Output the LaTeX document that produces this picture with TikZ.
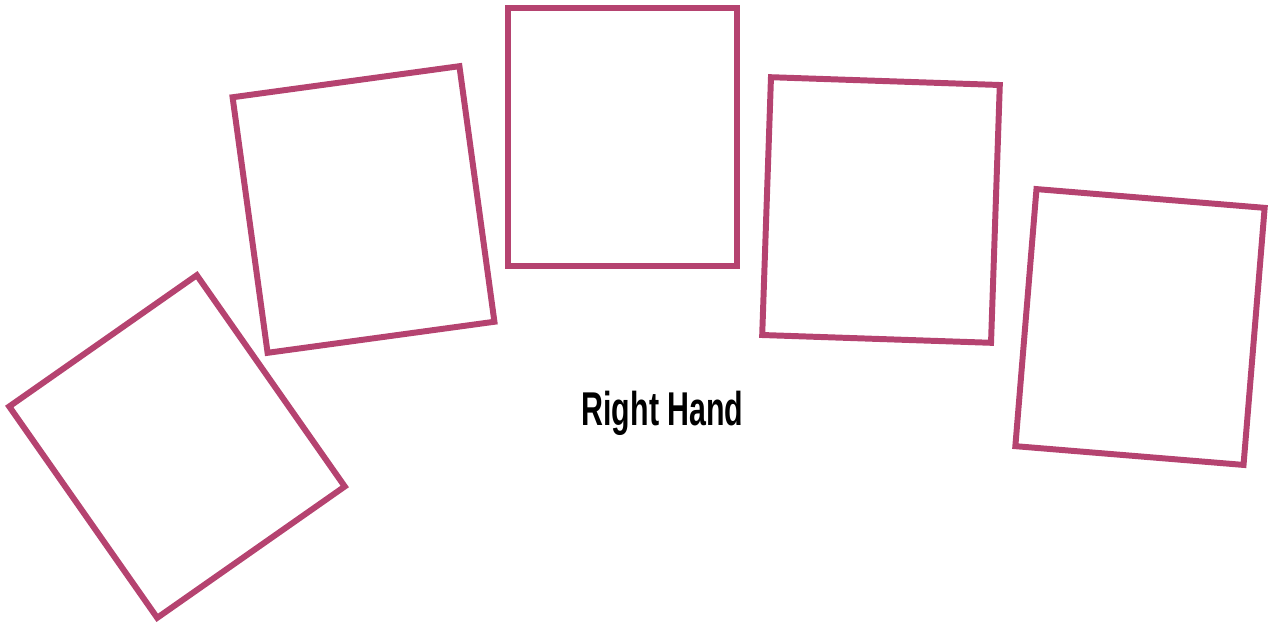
\documentclass[tikz,border=0pt]{standalone}
\usepackage{fontspec}
\newfontfamily\handfont{Liberation Sans}
\definecolor{handpink}{RGB}{181,67,112}
\tikzset{
  fingerbox/.style={rectangle,draw=handpink,line width=3.4pt,minimum width=4.58cm,minimum height=5.16cm,inner sep=0pt},
  handlabel/.style={font=\handfont\bfseries\fontsize{27}{30}\selectfont,anchor=base,inner sep=0pt}
}
\begin{document}
\begin{tikzpicture}[x=0.02cm,y=-0.02cm]
        \useasboundingbox (0,0) rectangle (1268,626);
        \node[fingerbox,rotate=35] (thumb) at (177,446.5) {};
        \node[fingerbox,rotate=7.8] (index) at (363.5,209.5) {};
        \node[fingerbox] (middle) at (622.5,137) {};
        \node[fingerbox,rotate=-1.95] (ring) at (881,210) {};
        \node[fingerbox,rotate=-4.7] (pinky) at (1140,327) {};
        \node[handlabel] (hand) at (662.5,425) {\scalebox{0.64}[1]{Right Hand}};
      \end{tikzpicture}
\end{document}
